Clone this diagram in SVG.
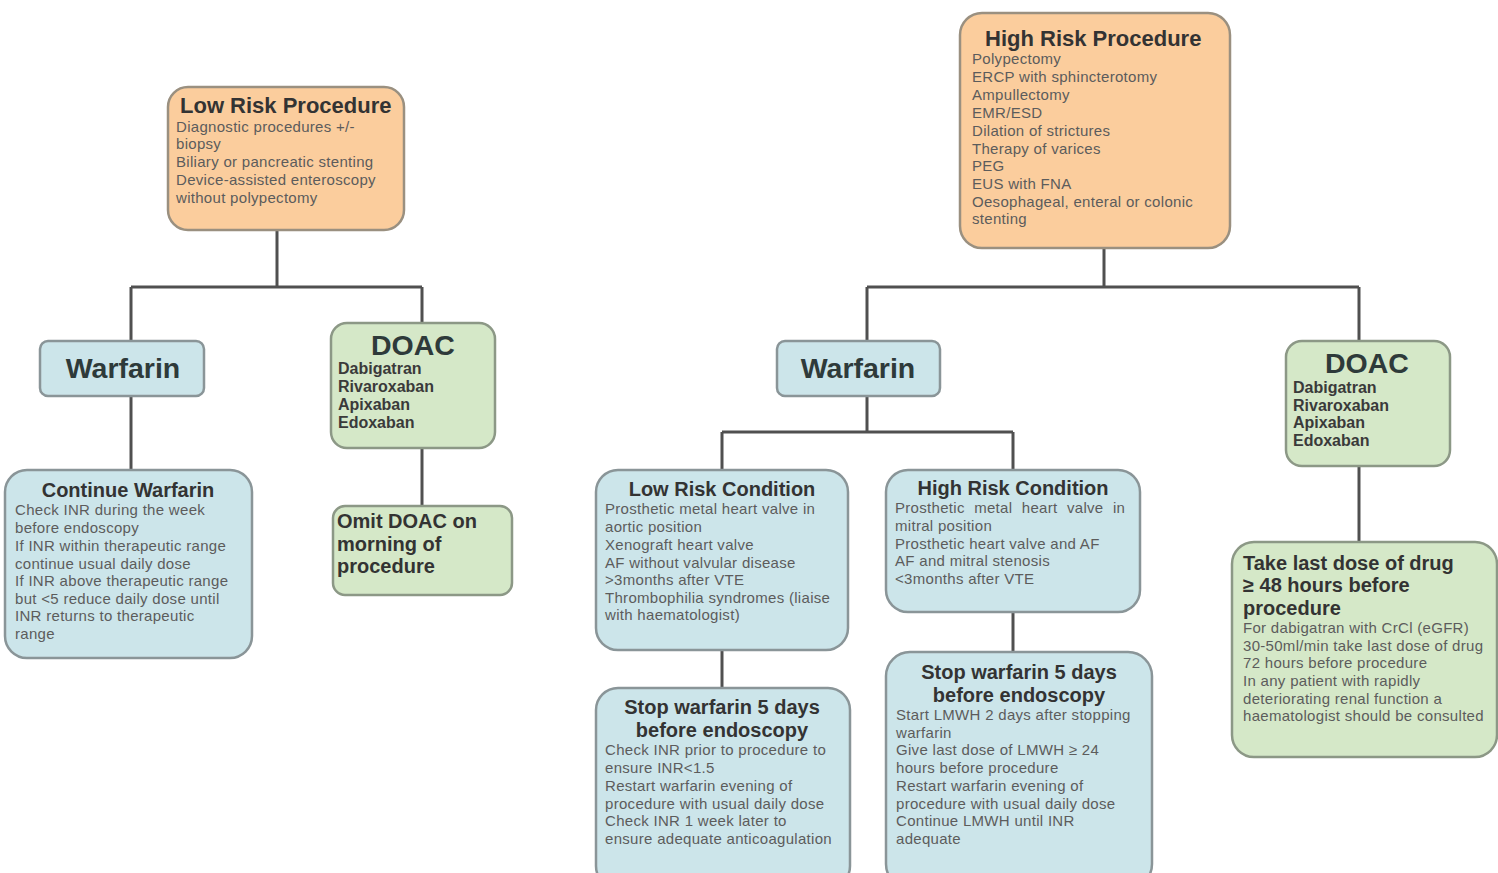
<svg xmlns="http://www.w3.org/2000/svg" width="1498" height="873" viewBox="0 0 1498 873">
<style>
.peach{fill:#fbcd9d;stroke:#9a9080;stroke-width:2.5}
.blue{fill:#cce5ea;stroke:#8a9598;stroke-width:2.5}
.green{fill:#d5e8c8;stroke:#8c9886;stroke-width:2.5}
.conn{fill:none;stroke:#505050;stroke-width:3}
text{font-family:"Liberation Sans",Arial,sans-serif}
.pt{font-weight:bold;font-size:22px;fill:#333}
.t{font-weight:bold;font-size:20px;fill:#333}
.big{font-weight:bold;font-size:28.5px;fill:#2e3a3a}
.b{font-size:15px;letter-spacing:0.3px;fill:#5c5c5c}
.drug{font-weight:bold;font-size:16px;fill:#3a3a3a}
.bt{font-weight:bold;font-size:20px;fill:#333}
</style>
<rect width="1498" height="873" fill="#ffffff"/>
<g id="connectors">
<path class="conn" d="M277 230V287M131 287H422M131 287V341M422 287V323"/>
<path class="conn" d="M131 396V470"/>
<path class="conn" d="M422 448V506"/>
<path class="conn" d="M1104 248V287M867 287H1359M867 287V341M1359 287V341"/>
<path class="conn" d="M867 396V432M722 432H1013M722 432V470M1013 432V470"/>
<path class="conn" d="M722 650V688"/>
<path class="conn" d="M1013 612V652"/>
<path class="conn" d="M1359 466V542"/>
</g>
<g id="low-risk-procedure">
<rect class="peach" x="168" y="87" width="236" height="143" rx="20"/>
<text class="pt" x="180" y="113">Low Risk Procedure</text>
<text class="b" x="176" y="132">Diagnostic procedures +/-</text>
<text class="b" x="176" y="149">biopsy</text>
<text class="b" x="176" y="167">Biliary or pancreatic stenting</text>
<text class="b" x="176" y="185">Device-assisted enteroscopy</text>
<text class="b" x="176" y="203">without polypectomy</text>
</g>
<g id="high-risk-procedure">
<rect class="peach" x="960" y="13" width="270" height="235" rx="22"/>
<text class="pt" x="985" y="46">High Risk Procedure</text>
<text class="b" x="972" y="64">Polypectomy</text>
<text class="b" x="972" y="82">ERCP with sphincterotomy</text>
<text class="b" x="972" y="100">Ampullectomy</text>
<text class="b" x="972" y="118">EMR/ESD</text>
<text class="b" x="972" y="136">Dilation of strictures</text>
<text class="b" x="972" y="154">Therapy of varices</text>
<text class="b" x="972" y="171">PEG</text>
<text class="b" x="972" y="189">EUS with FNA</text>
<text class="b" x="972" y="207">Oesophageal, enteral or colonic</text>
<text class="b" x="972" y="224">stenting</text>
</g>
<g id="warfarin-left">
<rect class="blue" x="40" y="341" width="164" height="55" rx="8"/>
<text class="big" x="123" y="378" text-anchor="middle">Warfarin</text>
</g>
<g id="doac-left">
<rect class="green" x="331" y="323" width="164" height="125" rx="16"/>
<text class="big" x="413" y="355" text-anchor="middle">DOAC</text>
<text class="drug" x="338" y="374">Dabigatran</text>
<text class="drug" x="338" y="392">Rivaroxaban</text>
<text class="drug" x="338" y="410">Apixaban</text>
<text class="drug" x="338" y="428">Edoxaban</text>
</g>
<g id="continue-warfarin">
<rect class="blue" x="5" y="470" width="247" height="188" rx="22"/>
<text class="t" x="128" y="497" text-anchor="middle">Continue Warfarin</text>
<text class="b" x="15" y="515">Check INR during the week</text>
<text class="b" x="15" y="533">before endoscopy</text>
<text class="b" x="15" y="551">If INR within therapeutic range</text>
<text class="b" x="15" y="569">continue usual daily dose</text>
<text class="b" x="15" y="586">If INR above therapeutic range</text>
<text class="b" x="15" y="604">but &lt;5 reduce daily dose until</text>
<text class="b" x="15" y="621">INR returns to therapeutic</text>
<text class="b" x="15" y="639">range</text>
</g>
<g id="omit-doac">
<rect class="green" x="333" y="506" width="179" height="89" rx="12"/>
<text class="bt" x="337" y="528">Omit DOAC on</text>
<text class="bt" x="337" y="551">morning of</text>
<text class="bt" x="337" y="573">procedure</text>
</g>
<g id="warfarin-right">
<rect class="blue" x="777" y="341" width="163" height="55" rx="8"/>
<text class="big" x="858" y="378" text-anchor="middle">Warfarin</text>
</g>
<g id="doac-right">
<rect class="green" x="1286" y="341" width="164" height="125" rx="16"/>
<text class="big" x="1367" y="373" text-anchor="middle">DOAC</text>
<text class="drug" x="1293" y="393">Dabigatran</text>
<text class="drug" x="1293" y="411">Rivaroxaban</text>
<text class="drug" x="1293" y="428">Apixaban</text>
<text class="drug" x="1293" y="446">Edoxaban</text>
</g>
<g id="low-risk-condition">
<rect class="blue" x="596" y="470" width="252" height="180" rx="22"/>
<text class="t" x="722" y="496" text-anchor="middle">Low Risk Condition</text>
<text class="b" x="605" y="514">Prosthetic metal heart valve in</text>
<text class="b" x="605" y="532">aortic position</text>
<text class="b" x="605" y="550">Xenograft heart valve</text>
<text class="b" x="605" y="568">AF without valvular disease</text>
<text class="b" x="605" y="585">&gt;3months after VTE</text>
<text class="b" x="605" y="603">Thrombophilia syndromes (liaise</text>
<text class="b" x="605" y="620">with haematologist)</text>
</g>
<g id="high-risk-condition">
<rect class="blue" x="886" y="470" width="254" height="142" rx="22"/>
<text class="t" x="1013" y="495" text-anchor="middle">High Risk Condition</text>
<text class="b" x="895" y="513" word-spacing="5">Prosthetic metal heart valve in</text>
<text class="b" x="895" y="531">mitral position</text>
<text class="b" x="895" y="549">Prosthetic heart valve and AF</text>
<text class="b" x="895" y="566">AF and mitral stenosis</text>
<text class="b" x="895" y="584">&lt;3months after VTE</text>
</g>
<g id="stop-warfarin-low">
<rect class="blue" x="596" y="688" width="254" height="200" rx="22"/>
<text class="t" x="722" y="714" text-anchor="middle">Stop warfarin 5 days</text>
<text class="t" x="722" y="737" text-anchor="middle">before endoscopy</text>
<text class="b" x="605" y="755">Check INR prior to procedure to</text>
<text class="b" x="605" y="773">ensure INR&lt;1.5</text>
<text class="b" x="605" y="791">Restart warfarin evening of</text>
<text class="b" x="605" y="809">procedure with usual daily dose</text>
<text class="b" x="605" y="826">Check INR 1 week later to</text>
<text class="b" x="605" y="844">ensure adequate anticoagulation</text>
</g>
<g id="stop-warfarin-high">
<rect class="blue" x="886" y="652" width="266" height="236" rx="24"/>
<text class="t" x="1019" y="679" text-anchor="middle">Stop warfarin 5 days</text>
<text class="t" x="1019" y="702" text-anchor="middle">before endoscopy</text>
<text class="b" x="896" y="720">Start LMWH 2 days after stopping</text>
<text class="b" x="896" y="738">warfarin</text>
<text class="b" x="896" y="755">Give last dose of LMWH ≥ 24</text>
<text class="b" x="896" y="773">hours before procedure</text>
<text class="b" x="896" y="791">Restart warfarin evening of</text>
<text class="b" x="896" y="809">procedure with usual daily dose</text>
<text class="b" x="896" y="826">Continue LMWH until INR</text>
<text class="b" x="896" y="844">adequate</text>
</g>
<g id="take-last-dose">
<rect class="green" x="1232" y="542" width="265" height="215" rx="22"/>
<text class="bt" x="1243" y="570">Take last dose of drug</text>
<text class="bt" x="1243" y="592">≥ 48 hours before</text>
<text class="bt" x="1243" y="615">procedure</text>
<text class="b" x="1243" y="633">For dabigatran with CrCl (eGFR)</text>
<text class="b" x="1243" y="651">30-50ml/min take last dose of drug</text>
<text class="b" x="1243" y="668">72 hours before procedure</text>
<text class="b" x="1243" y="686">In any patient with rapidly</text>
<text class="b" x="1243" y="704">deteriorating renal function a</text>
<text class="b" x="1243" y="721">haematologist should be consulted</text>
</g>
</svg>
